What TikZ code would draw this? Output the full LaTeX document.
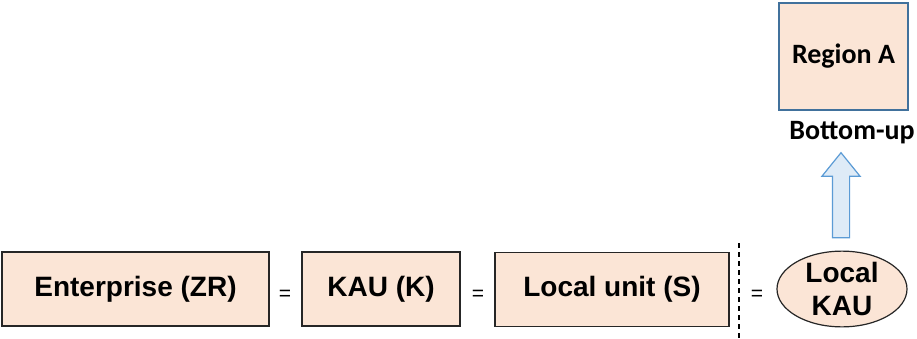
\documentclass[tikz,border=0pt]{standalone}
\usepackage{fontspec}
\setmainfont{Liberation Sans}
\newfontfamily\calibrifont{Carlito}
\usetikzlibrary{shapes.geometric,shapes.arrows,positioning}
\definecolor{unitfill}{RGB}{251,229,214}
\definecolor{regionline}{RGB}{65,113,156}
\definecolor{arrowfill}{RGB}{222,235,247}
\definecolor{arrowline}{RGB}{91,155,213}
\tikzset{
  unitbox/.style={rectangle, draw=black!85, fill=unitfill, semithick, minimum height=37pt,
    inner sep=0pt, font=\fontsize{14}{16.5}\selectfont\bfseries},
  unitoval/.style={ellipse, draw=black!85, fill=unitfill, semithick, minimum width=65pt,
    minimum height=37pt, inner sep=0pt, align=center, font=\fontsize{14}{16.5}\selectfont\bfseries},
  eqsign/.style={font=\fontsize{10.5}{11}\selectfont},
  regionbox/.style={rectangle, draw=regionline, fill=unitfill, semithick, minimum width=64.5pt,
    minimum height=53.5pt, inner sep=0pt, font=\fontsize{14}{16}\selectfont\calibrifont\bfseries},
  uparrow/.style={single arrow, draw=arrowline, fill=arrowfill, semithick, rotate=90,
    minimum height=42.5pt, minimum width=18.5pt, inner sep=4pt,
    single arrow head extend=5.25pt, single arrow tip angle=78}
}
\begin{document}
\begin{tikzpicture}[x=0.5pt, y=-0.5pt]
\useasboundingbox (0,0) rectangle (917,338);
% Units along the bottom
\node[unitbox, minimum width=133.5pt] (ent) at (135.5,289) {Enterprise (ZR)};
\node[unitbox, minimum width=79pt] (kau) at (381,289) {KAU (K)};
\node[unitbox, minimum width=117pt] (loc) at (612,289.5) {Local unit (S)};
\node[unitoval] (lkau) at (842,289) {Local\\KAU};

% Equal signs
\node[eqsign] (eq1) at (285,295) {=};
\node[eqsign] (eq2) at (478,295) {=};
\node[eqsign] (eq3) at (757,295) {=};

% Separator
\coordinate (septop) at (739,243);
\coordinate (sepbot) at (739,338);
\draw[dash pattern=on 2.5pt off 2pt, semithick] (septop) -- (sepbot);

% Region on top
\node[regionbox] (rega) at (843.5,56.5) {Region A};
\node[font=\fontsize{14}{16}\selectfont\calibrifont\bfseries] (bu) at (852,133) {Bottom-up};
\node[uparrow] (up) at (841,200.5) {};
\end{tikzpicture}
\end{document}
